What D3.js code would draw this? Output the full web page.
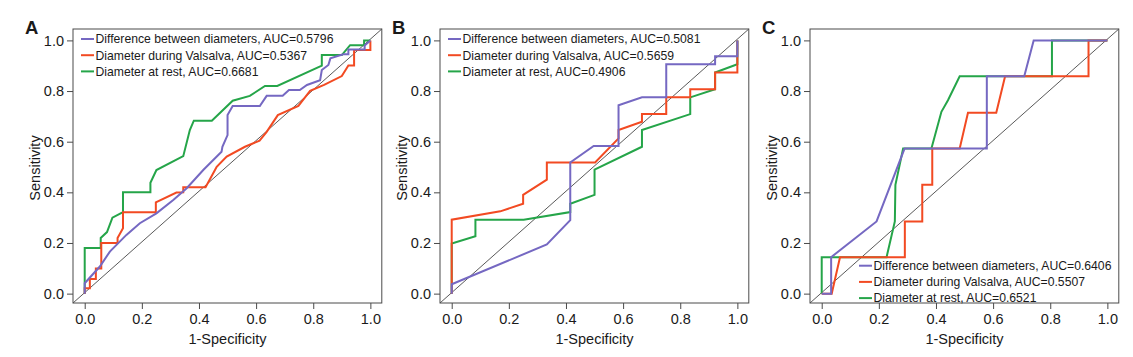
<!DOCTYPE html>
<html><head><meta charset="utf-8">
<script src="https://cdn.jsdelivr.net/npm/d3@7"></script>
<style>body{margin:0;background:#fff}svg{display:block}text{font-family:"Liberation Sans",Arial,sans-serif;fill:#1a1a1a}</style>
</head><body><svg id="c" width="1133" height="357"></svg>
<script>
const seriesNames = ["Difference between diameters", "Diameter during Valsalva", "Diameter at rest"];
const panelLabels = ["A", "B", "C"];
const aucA = ["0.5796", "0.5367", "0.6681"];
const aucB = ["0.5081", "0.5659", "0.4906"];
const aucC = ["0.6406", "0.5507", "0.6521"];
const tickValues = [0.0, 0.2, 0.4, 0.6, 0.8, 1.0];

// Panel A
const aDiffX = [0,0,0.053,0.088,0.146,0.193,0.251,0.31,0.357,0.415,0.479,0.482,0.5,0.5,0.518,0.613,0.637,0.693,0.715,0.753,0.778,0.824,0.83,0.853,0.86,0.905,0.923,0.923,0.98,0.98,1.0];
const aDiffY = [0,0.041,0.107,0.166,0.232,0.278,0.317,0.37,0.416,0.488,0.56,0.58,0.626,0.705,0.741,0.741,0.781,0.781,0.804,0.804,0.824,0.843,0.883,0.903,0.929,0.945,0.945,0.964,0.964,0.98,1.0];
const aValsX = [0,0,0.018,0.018,0.039,0.039,0.058,0.058,0.115,0.115,0.134,0.134,0.249,0.249,0.321,0.345,0.345,0.423,0.456,0.462,0.497,0.561,0.612,0.637,0.676,0.748,0.789,0.838,0.9,0.923,0.943,0.943,1.0,1.0];
const aValsY = [0,0.021,0.021,0.058,0.058,0.099,0.099,0.20,0.20,0.22,0.258,0.321,0.321,0.36,0.399,0.40,0.42,0.42,0.488,0.501,0.541,0.58,0.604,0.639,0.705,0.741,0.801,0.824,0.859,0.901,0.901,0.962,0.962,1.0];
const aRestX = [0,0,0.056,0.056,0.078,0.097,0.134,0.134,0.23,0.23,0.251,0.345,0.368,0.382,0.445,0.518,0.578,0.631,0.674,0.83,0.83,0.9,0.929,0.978,0.978,1.0];
const aRestY = [0,0.18,0.18,0.22,0.243,0.30,0.322,0.40,0.40,0.438,0.488,0.543,0.646,0.683,0.683,0.762,0.781,0.82,0.82,0.9,0.942,0.942,0.981,0.981,1.0,1.0];
// Panel B
const bDiffX = [0,0,0.333,0.415,0.415,0.497,0.584,0.584,0.666,0.751,0.751,0.922,0.922,1.0,1.0];
const bDiffY = [0,0.037,0.194,0.29,0.518,0.583,0.583,0.744,0.775,0.775,0.906,0.906,0.937,0.937,1.0];
const bValsX = [0,0,0.17,0.25,0.25,0.333,0.333,0.502,0.584,0.584,0.666,0.666,0.751,0.751,0.835,0.835,0.922,0.922,1.0,1.0];
const bValsY = [0,0.292,0.325,0.355,0.39,0.45,0.518,0.518,0.613,0.646,0.679,0.709,0.709,0.775,0.775,0.807,0.807,0.873,0.873,1.0];
const bRestX = [0,0,0.083,0.083,0.252,0.415,0.415,0.5,0.5,0.666,0.666,0.835,0.835,0.922,0.922,1.0,1.0];
const bRestY = [0,0.198,0.227,0.292,0.292,0.322,0.355,0.39,0.49,0.58,0.646,0.709,0.775,0.807,0.873,0.906,1.0];
// Panel C
const cDiffX = [0,0.033,0.033,0.192,0.29,0.578,0.578,0.709,0.742,1.0];
const cDiffY = [0,0,0.144,0.285,0.573,0.573,0.858,0.858,1.0,1.0];
const cValsX = [0,0.035,0.064,0.291,0.291,0.352,0.352,0.387,0.387,0.483,0.512,0.611,0.642,0.934,0.934,1.0];
const cValsY = [0,0,0.144,0.144,0.285,0.285,0.43,0.43,0.573,0.573,0.714,0.714,0.858,0.858,1.0,1.0];
const cRestX = [0,0,0.227,0.256,0.258,0.285,0.384,0.419,0.442,0.483,0.806,0.806,1.0];
const cRestY = [0,0.144,0.144,0.285,0.43,0.573,0.573,0.718,0.764,0.858,0.858,1.0,1.0];

const colors = ["#7568c2", "#f24a22", "#25a549"];

const panels = [
  {label: panelLabels[0], left: 73, auc: aucA, legend: "top", series: [[aDiffX,aDiffY],[aValsX,aValsY],[aRestX,aRestY]]},
  {label: panelLabels[1], left: 440, auc: aucB, legend: "top", series: [[bDiffX,bDiffY],[bValsX,bValsY],[bRestX,bRestY]]},
  {label: panelLabels[2], left: 810, auc: aucC, legend: "bottom", series: [[cDiffX,cDiffY],[cValsX,cValsY],[cRestX,cRestY]]}
];

const svg = d3.select("#c");
const W = 308.8, plotTop = 29, plotBottom = 303;
const frameColor = "#4a4a4a";

panels.forEach(p => {
  const g = svg.append("g");
  const x = d3.scaleLinear().domain([-0.041, 1.04]).range([p.left, p.left + W]);
  const y = d3.scaleLinear().domain([-0.037, 1.045]).range([plotBottom, plotTop]);

  g.append("line")
    .attr("x1", x.range()[0]).attr("y1", y.range()[0])
    .attr("x2", x.range()[1]).attr("y2", y.range()[1])
    .attr("stroke", "#111").attr("stroke-width", 0.7);

  const line = d3.line().x(d => x(d[0])).y(d => y(d[1]));
  [2, 1, 0].forEach(i => {
    const [xs, ys] = p.series[i];
    const pts = xs.map((v, k) => [v, ys[k]]);
    g.append("path").datum(pts).attr("d", line)
      .attr("fill", "none").attr("stroke", colors[i]).attr("stroke-width", 2)
      .attr("stroke-linejoin", "miter");
  });

  g.append("rect").attr("x", p.left).attr("y", plotTop).attr("width", W).attr("height", plotBottom - plotTop)
    .attr("fill", "none").attr("stroke", frameColor).attr("stroke-width", 1);

  const xAxis = d3.axisBottom(x).tickValues(tickValues).tickFormat(d3.format(".1f")).tickSize(6).tickSizeOuter(0);
  const yAxis = d3.axisLeft(y).tickValues(tickValues).tickFormat(d3.format(".1f")).tickSize(6).tickSizeOuter(0);
  const gx = g.append("g").attr("transform", `translate(0,${plotBottom})`).call(xAxis);
  const gy = g.append("g").attr("transform", `translate(${p.left},0)`).call(yAxis);
  [gx, gy].forEach(a => {
    a.select(".domain").remove();
    a.selectAll("line").attr("stroke", frameColor);
    a.selectAll("text").style("font-size", "14.5px").attr("fill", "#1a1a1a");
  });
  gx.selectAll("text").attr("dy", "0.95em").attr("y", 7);
  gy.selectAll("text").attr("x", -9);

  g.append("text").attr("x", x(0.5)).attr("y", 344).attr("text-anchor", "middle")
    .style("font-size", "14.5px").text("1-Specificity");
  g.append("text").attr("transform", `translate(${p.left - 33},${(plotTop + plotBottom) / 2 + 2}) rotate(-90)`)
    .attr("text-anchor", "middle").style("font-size", "14.5px").text("Sensitivity");

  g.append("text").attr("x", p.left - 48).attr("y", 34).style("font-size", "18.5px")
    .style("font-weight", "bold").text(p.label);

  const lx = p.legend === "top" ? p.left + 8 : p.left + 49;
  const ly0 = p.legend === "top" ? 39 : 265.7;
  const dyRow = 16.2;
  seriesNames.forEach((name, i) => {
    const yy = ly0 + i * dyRow;
    g.append("line").attr("x1", lx).attr("x2", lx + 13).attr("y1", yy).attr("y2", yy)
      .attr("stroke", colors[i]).attr("stroke-width", 2);
    g.append("text").attr("x", lx + 14.5).attr("y", yy + 4.3).style("font-size", "12.2px")
      .text(`${name}, AUC=${p.auc[i]}`);
  });
});
</script></body></html>
